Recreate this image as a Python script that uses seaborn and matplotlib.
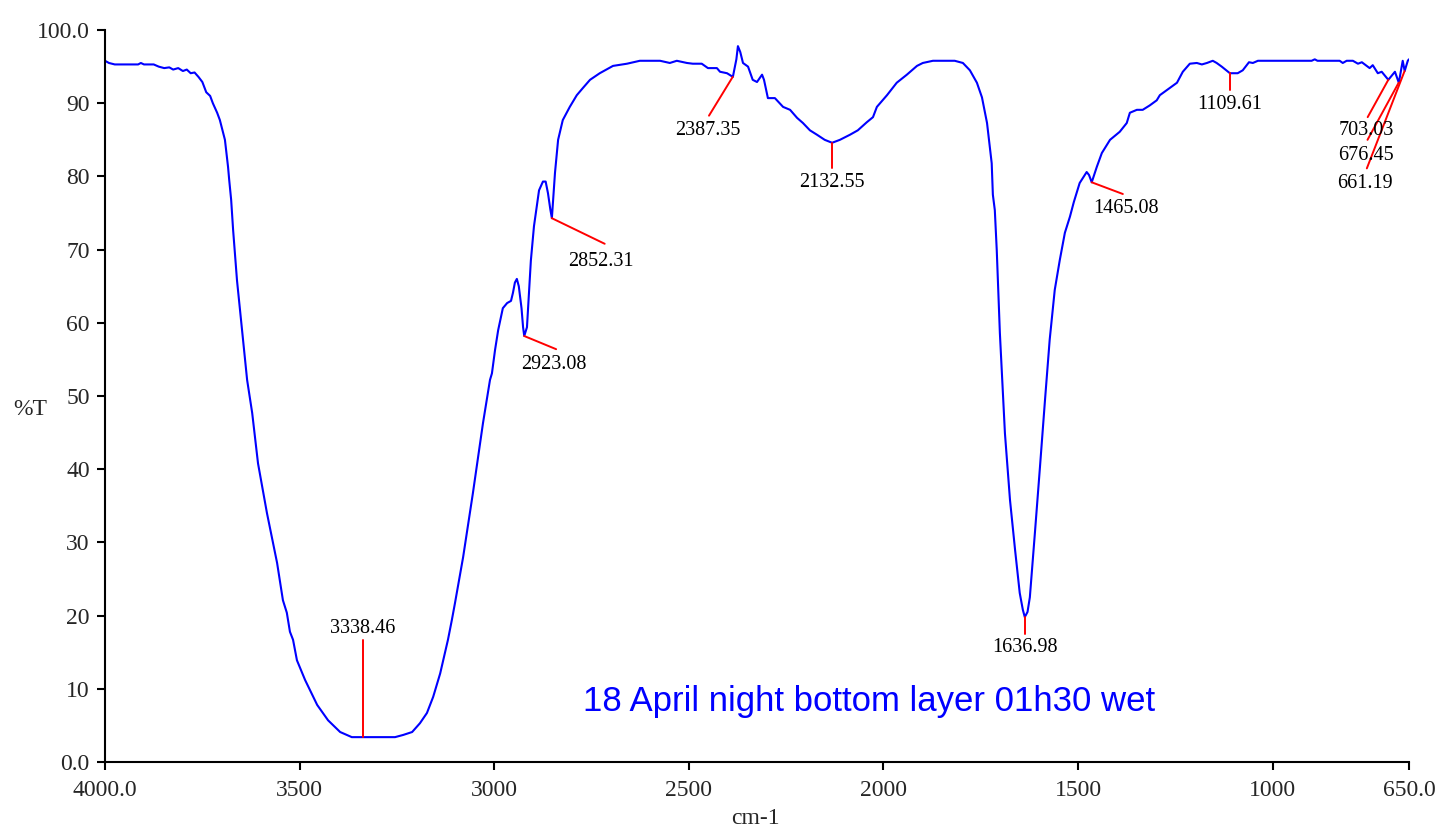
import numpy as np
import pandas as pd
import seaborn as sns
import matplotlib.pyplot as plt

# FTIR spectrum (wavenumber cm-1, %T)
wavenumber = [4000, 3990, 3975, 3915, 3908, 3900, 3875, 3862, 3848, 3835, 3825, 3812, 3800,
              3790, 3780, 3770, 3760, 3750, 3740, 3730, 3723, 3712, 3705, 3692, 3684, 3681,
              3676, 3671, 3661, 3648, 3635, 3622, 3607, 3584, 3558, 3543, 3533, 3525, 3517,
              3507, 3486, 3455, 3427, 3396, 3366, 3338, 3255, 3234, 3211, 3191, 3173, 3157,
              3139, 3119, 3109, 3101, 3080, 3055, 3029, 3011, 3006, 2998, 2990, 2978, 2967,
              2957, 2952, 2947, 2942, 2937, 2930, 2926, 2923, 2916, 2906, 2898, 2885, 2875,
              2868, 2862, 2856, 2852, 2844, 2836, 2824, 2806, 2788, 2772, 2754, 2729, 2695,
              2659, 2626, 2574, 2549, 2531, 2505, 2490, 2467, 2451, 2428, 2420, 2402, 2387,
              2378, 2374, 2368, 2361, 2348, 2336, 2325, 2312, 2307, 2297, 2279, 2258, 2240,
              2222, 2207, 2189, 2171, 2151, 2132, 2112, 2086, 2066, 2043, 2027, 2017, 1991,
              1966, 1940, 1914, 1899, 1873, 1817, 1796, 1778, 1760, 1747, 1734, 1722, 1719,
              1714, 1709, 1701, 1688, 1675, 1662, 1650, 1642, 1637, 1630, 1624, 1611, 1598,
              1585, 1573, 1560, 1547, 1534, 1521, 1511, 1496, 1478, 1472, 1465, 1452, 1439,
              1418, 1393, 1375, 1367, 1349, 1334, 1316, 1298, 1290, 1264, 1246, 1231, 1213,
              1195, 1182, 1169, 1154, 1144, 1131, 1110, 1090, 1077, 1061, 1051, 1038, 900,
              892, 885, 828, 820, 810, 794, 781, 771, 751, 743, 730, 720, 703, 686, 676, 666,
              661, 653, 650]
transmittance = [95.8, 95.5, 95.3, 95.3, 95.5, 95.3, 95.3, 95.0, 94.8, 94.9, 94.6, 94.8, 94.4,
                 94.6, 94.1, 94.2, 93.6, 92.9, 91.5, 91.0, 90.0, 88.7, 87.7, 85.0, 81.3, 79.5,
                 76.8, 72.7, 65.8, 59.0, 52.2, 47.7, 40.8, 34.0, 27.2, 22.1, 20.4, 17.8, 16.7,
                 13.9, 11.2, 7.8, 5.7, 4.1, 3.4, 3.4, 3.4, 3.7, 4.1, 5.3, 6.7, 8.9,
                 12.1, 16.7, 19.4, 21.7, 28.0, 36.7, 46.3, 52.2, 53.1, 56.3, 59.0, 62.0, 62.7,
                 63.0, 64.1, 65.5, 66.0, 65.0, 62.0, 59.4, 58.2, 59.4, 68.5, 73.2, 78.1, 79.3,
                 79.3, 77.7, 75.5, 74.3, 80.5, 85.0, 87.7, 89.5, 91.1, 92.1, 93.2, 94.1, 95.1,
                 95.4, 95.8, 95.8, 95.5, 95.8, 95.5, 95.4, 95.4, 94.8, 94.8, 94.3, 94.1, 93.6,
                 96.0, 97.8, 97.0, 95.5, 95.0, 93.2, 92.9, 93.9, 93.2, 90.7, 90.7, 89.5, 89.1,
                 88.0, 87.3, 86.3, 85.7, 85.0, 84.6, 85.0, 85.7, 86.3, 87.4, 88.1, 89.5, 91.1,
                 92.8, 93.9, 95.1, 95.5, 95.8, 95.8, 95.5, 94.5, 92.8, 90.8, 87.3, 81.8, 77.5,
                 75.4, 69.9, 58.6, 44.9, 35.8, 29.0, 23.1, 20.8, 19.8, 20.5, 22.5, 31.3, 40.3,
                 49.5, 57.7, 64.5, 68.6, 72.3, 74.5, 76.5, 79.1, 80.6, 80.2, 79.2, 81.3, 83.2,
                 85.0, 86.1, 87.3, 88.7, 89.1, 89.1, 89.7, 90.4, 91.1, 92.1, 92.8, 94.3, 95.4,
                 95.5, 95.3, 95.5, 95.8, 95.5, 95.0, 94.1, 94.1, 94.5, 95.6, 95.5, 95.8, 95.8,
                 96.0, 95.8, 95.8, 95.5, 95.8, 95.8, 95.4, 95.6, 94.8, 95.2, 94.1, 94.3, 93.2, 94.3, 92.8, 95.8,
                 94.4, 95.8, 96.0]

# picked peaks
peak_wn = [3338.46, 2923.08, 2852.31, 2387.35, 2132.55, 1636.98, 1465.08, 1109.61, 703.03, 676.45, 661.19]
peak_t = [3.4, 58.2, 74.3, 93.6, 84.6, 19.8, 79.2, 94.1, 93.2, 92.8, 94.4]
peak_labels = ["3338.46", "2923.08", "2852.31", "2387.35", "2132.55", "1636.98",
               "1465.08", "1109.61", "703.03", "676.45", "661.19"]

# leader line end offsets and label offsets (data units, relative)
leader_dx = [0, -82, -136, 61, 0, 0, -80, 0, 53, 80, 97]
leader_dy = [13.3, -1.8, -3.5, -5.3, -3.5, -2.3, -1.6, -2.3, -5.1, -7.8, -13.3]
text_dx = [0, 6, 10, 4, 0, 0, -7, 0, 4, 4, 4]
text_dy = [1.6, -2.1, -2.4, -2.0, -1.9, -1.9, -2.0, -2.0, -1.8, -2.2, -2.1]

x_ticks = [4000, 3500, 3000, 2500, 2000, 1500, 1000, 650]
x_ticklabels = ["4000.0", "3500", "3000", "2500", "2000", "1500", "1000", "650.0"]
y_ticks = [0, 10, 20, 30, 40, 50, 60, 70, 80, 90, 100]
y_ticklabels = ["0.0", "10", "20", "30", "40", "50", "60", "70", "80", "90", "100.0"]

title_text = "18 April night bottom layer 01h30 wet"

sns.set_style("ticks")
plt.rcParams['font.family'] = ['Liberation Serif', 'DejaVu Serif']

df = pd.DataFrame({"wn": wavenumber, "T": transmittance})

fig = plt.figure(figsize=(14.43, 8.32), dpi=100)
ax = fig.add_axes([0.0728, 0.0841, 0.9036, 0.8798])

sns.lineplot(data=df, x="wn", y="T", sort=False, estimator=None, color="#0000ff", lw=1.5, ax=ax)

for i in range(len(peak_wn)):
    x0, y0 = peak_wn[i], peak_t[i]
    x1, y1 = x0 + leader_dx[i], y0 + leader_dy[i]
    ax.plot([x0, x1], [y0, y1], color="#ff0000", lw=1.4)
    ax.text(x1 + text_dx[i], y1 + text_dy[i], peak_labels[i], ha="center", va="center",
            fontsize=14.5, color="black")

ax.text(2037, 7.0, title_text, ha="center", va="baseline", fontsize=25,
        color="#0000ff", family=["Liberation Sans", "DejaVu Sans"])

ax.set_xlim(4000, 650)
ax.set_ylim(0, 100)
ax.set_xticks(x_ticks)
ax.set_xticklabels(x_ticklabels)
ax.set_yticks(y_ticks)
ax.set_yticklabels(y_ticklabels)
ax.tick_params(axis="both", direction="out", length=6, width=1.5, labelsize=17, color="black")
ax.tick_params(axis="x", pad=7)
ax.tick_params(axis="y", pad=5)

sns.despine(ax=ax)
for s in ["left", "bottom"]:
    ax.spines[s].set_linewidth(1.5)
    ax.spines[s].set_color("black")

ax.set_xlabel("cm-1", fontsize=17, va="center")
ax.set_ylabel("%T", fontsize=17, rotation=0, ha="center", va="center")
ax.xaxis.set_label_coords(0.4985, -0.0765)
ax.yaxis.set_label_coords(-0.0575, 0.481)

fig.savefig("out.png", dpi=100)
